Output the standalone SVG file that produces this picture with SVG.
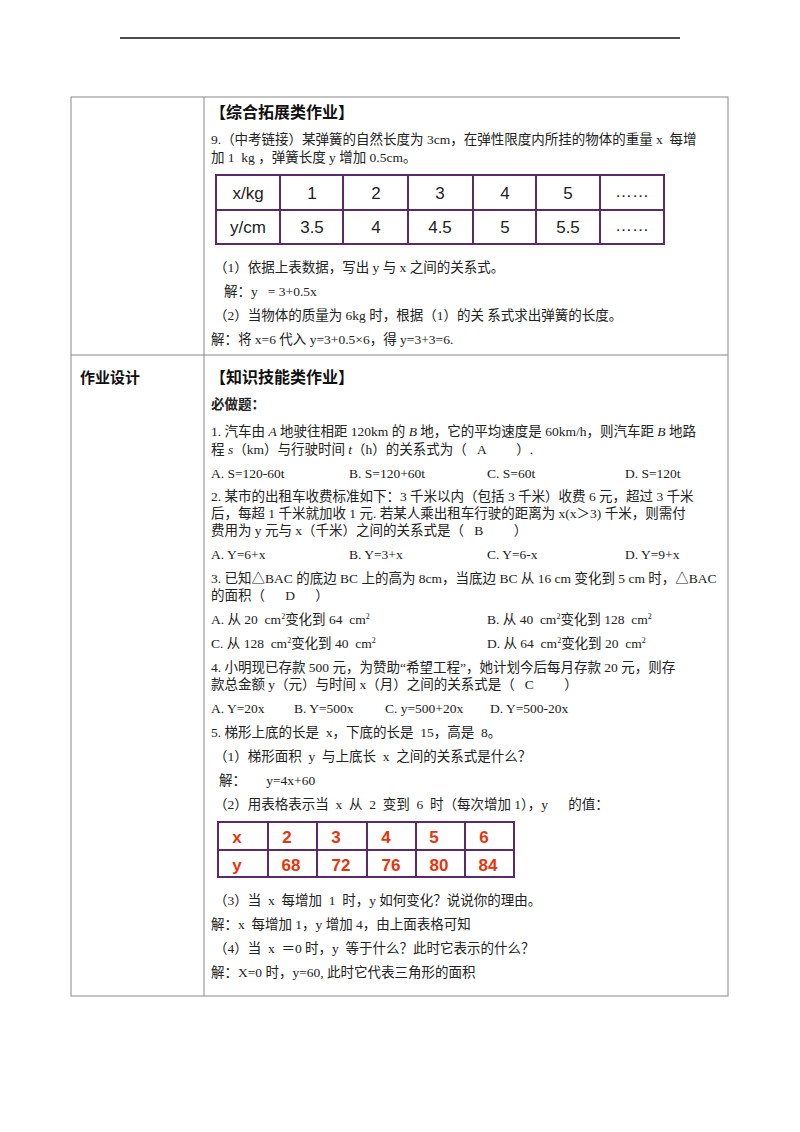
<svg xmlns="http://www.w3.org/2000/svg" width="800" height="1132" viewBox="0 0 800 1132">
<style>
text{font-family:"Liberation Serif","Noto Sans CJK SC",serif;font-size:13.5px;fill:#222;white-space:pre}
.h{font-family:"Noto Sans CJK SC",sans-serif;font-weight:bold;font-size:16px;fill:#111}
.b{font-family:"Noto Sans CJK SC",sans-serif;font-weight:bold;font-size:13.5px}
.t{font-family:"Liberation Sans","Noto Sans CJK SC",sans-serif;font-size:17px;text-anchor:middle;fill:#222}
.r{font-family:"Liberation Sans",sans-serif;font-size:17px;font-weight:bold;text-anchor:middle;fill:#e8340c}
.g{stroke:#888;stroke-width:1;fill:none}
.p{stroke:#5a2a6a;stroke-width:2;fill:none}
</style>
<rect width="800" height="1132" fill="#fff"/>
<line x1="120" y1="38" x2="680" y2="38" stroke="#111" stroke-width="1.5"/>
<g id="frame">
<rect class="g" x="71" y="97" width="657" height="899"/>
<line class="g" x1="204" y1="97" x2="204" y2="996"/>
<line class="g" x1="71" y1="355" x2="728" y2="355"/>
</g>
<g id="sec1">
<text class="h" x="210" y="118">【综合拓展类作业】</text>
<text x="211" y="144">9.（中考链接）某弹簧的自然长度为 3cm，在弹性限度内所挂的物体的重量 x  每增</text>
<text x="211" y="162">加 1  kg ，弹簧长度 y 增加 0.5cm。</text>
<g id="table1">
<rect class="p" x="216" y="175" width="448" height="69"/>
<line class="p" x1="216" y1="210" x2="664" y2="210"/>
<line class="p" x1="280" y1="175" x2="280" y2="244"/>
<line class="p" x1="343" y1="175" x2="343" y2="244"/>
<line class="p" x1="408" y1="175" x2="408" y2="244"/>
<line class="p" x1="473" y1="175" x2="473" y2="244"/>
<line class="p" x1="536" y1="175" x2="536" y2="244"/>
<line class="p" x1="600" y1="175" x2="600" y2="244"/>
<text class="t" x="248" y="199">x/kg</text><text class="t" x="312" y="199">1</text><text class="t" x="376" y="199">2</text><text class="t" x="440" y="199">3</text><text class="t" x="505" y="199">4</text><text class="t" x="568" y="199">5</text><text class="t" x="632" y="197">……</text>
<text class="t" x="248" y="233">y/cm</text><text class="t" x="312" y="233">3.5</text><text class="t" x="376" y="233">4</text><text class="t" x="440" y="233">4.5</text><text class="t" x="505" y="233">5</text><text class="t" x="568" y="233">5.5</text><text class="t" x="632" y="231">……</text>
</g>
<text x="214" y="272">（1）依据上表数据，写出 y 与 x 之间的关系式。</text>
<text x="224" y="296">解：y   = 3+0.5x</text>
<text x="214" y="320">（2）当物体的质量为 6kg 时，根据（1）的关 系式求出弹簧的长度。</text>
<text x="211" y="344">解：将 x=6 代入 y=3+0.5×6，得 y=3+3=6.</text>
</g>
<g id="sec2">
<text class="h" x="80" y="383" style="font-size:15px">作业设计</text>
<text class="h" x="210" y="383">【知识技能类作业】</text>
<text class="b" x="211" y="409">必做题：</text>
<text x="211" y="436">1. 汽车由 <tspan font-style="italic">A</tspan> 地驶往相距 120km 的 <tspan font-style="italic">B</tspan> 地，它的平均速度是 60km/h，则汽车距 <tspan font-style="italic">B</tspan> 地路</text>
<text x="211" y="454">程 <tspan font-style="italic">s</tspan>（km）与行驶时间 <tspan font-style="italic">t</tspan>（h）的关系式为（   A         ）.</text>
<text x="211" y="478">A. S=120-60t</text><text x="349" y="478">B. S=120+60t</text><text x="487" y="478">C. S=60t</text><text x="625" y="478">D. S=120t</text>
<text x="211" y="501">2. 某市的出租车收费标准如下：3 千米以内（包括 3 千米）收费 6 元，超过 3 千米</text>
<text x="211" y="518">后，每超 1 千米就加收 1 元. 若某人乘出租车行驶的距离为 x(x＞3) 千米，则需付</text>
<text x="211" y="535">费用为 y 元与 x（千米）之间的关系式是（   B         ）</text>
<text x="211" y="559">A. Y=6+x</text><text x="349" y="559">B. Y=3+x</text><text x="487" y="559">C. Y=6-x</text><text x="625" y="559">D. Y=9+x</text>
<text x="211" y="583">3. 已知△BAC 的底边 BC 上的高为 8cm，当底边 BC 从 16 cm 变化到 5 cm 时，△BAC</text>
<text x="211" y="600">的面积（      D      ）</text>
<text x="211" y="624">A. 从 20  cm<tspan font-size="8" dy="-5">2</tspan><tspan dy="5">变化到 64  cm</tspan><tspan font-size="8" dy="-5">2</tspan></text>
<text x="487" y="624">B. 从 40  cm<tspan font-size="8" dy="-5">2</tspan><tspan dy="5">变化到 128  cm</tspan><tspan font-size="8" dy="-5">2</tspan></text>
<text x="211" y="648">C. 从 128  cm<tspan font-size="8" dy="-5">2</tspan><tspan dy="5">变化到 40  cm</tspan><tspan font-size="8" dy="-5">2</tspan></text>
<text x="487" y="648">D. 从 64  cm<tspan font-size="8" dy="-5">2</tspan><tspan dy="5">变化到 20  cm</tspan><tspan font-size="8" dy="-5">2</tspan></text>
<text x="211" y="672">4. 小明现已存款 500 元，为赞助“希望工程”，她计划今后每月存款 20 元，则存</text>
<text x="211" y="689">款总金额 y（元）与时间 x（月）之间的关系式是（   C         ）</text>
<text x="211" y="713">A. Y=20x</text><text x="294" y="713">B. Y=500x</text><text x="385" y="713">C. y=500+20x</text><text x="490" y="713">D. Y=500-20x</text>
<text x="211" y="737">5. 梯形上底的长是  x，下底的长是  15，高是  8。</text>
<text x="214" y="761">（1）梯形面积  y  与上底长  x  之间的关系式是什么？</text>
<text x="219" y="785">解：      y=4x+60</text>
<text x="214" y="809">（2）用表格表示当  x  从  2  变到  6  时（每次增加 1），y      的值：</text>
<g id="table2">
<rect class="p" x="218" y="822" width="296" height="55"/>
<line class="p" x1="218" y1="850" x2="514" y2="850"/>
<line class="p" x1="268" y1="822" x2="268" y2="877"/>
<line class="p" x1="317" y1="822" x2="317" y2="877"/>
<line class="p" x1="367" y1="822" x2="367" y2="877"/>
<line class="p" x1="416" y1="822" x2="416" y2="877"/>
<line class="p" x1="465" y1="822" x2="465" y2="877"/>
<text class="r" x="237" y="843">x</text><text class="r" x="287" y="843">2</text><text class="r" x="336" y="843">3</text><text class="r" x="386" y="843">4</text><text class="r" x="434" y="843">5</text><text class="r" x="484" y="843">6</text>
<text class="r" x="237" y="871">y</text><text class="r" x="291" y="871">68</text><text class="r" x="341" y="871">72</text><text class="r" x="391" y="871">76</text><text class="r" x="439" y="871">80</text><text class="r" x="488" y="871">84</text>
</g>
<text x="214" y="905">（3）当  x  每增加  1  时，y 如何变化？说说你的理由。</text>
<text x="211" y="929">解：x  每增加 1，y 增加 4，由上面表格可知</text>
<text x="214" y="953">（4）当  x  ＝0 时，y  等于什么？此时它表示的什么？</text>
<text x="211" y="977">解：X=0 时，y=60, 此时它代表三角形的面积</text>
</g>
</svg>
